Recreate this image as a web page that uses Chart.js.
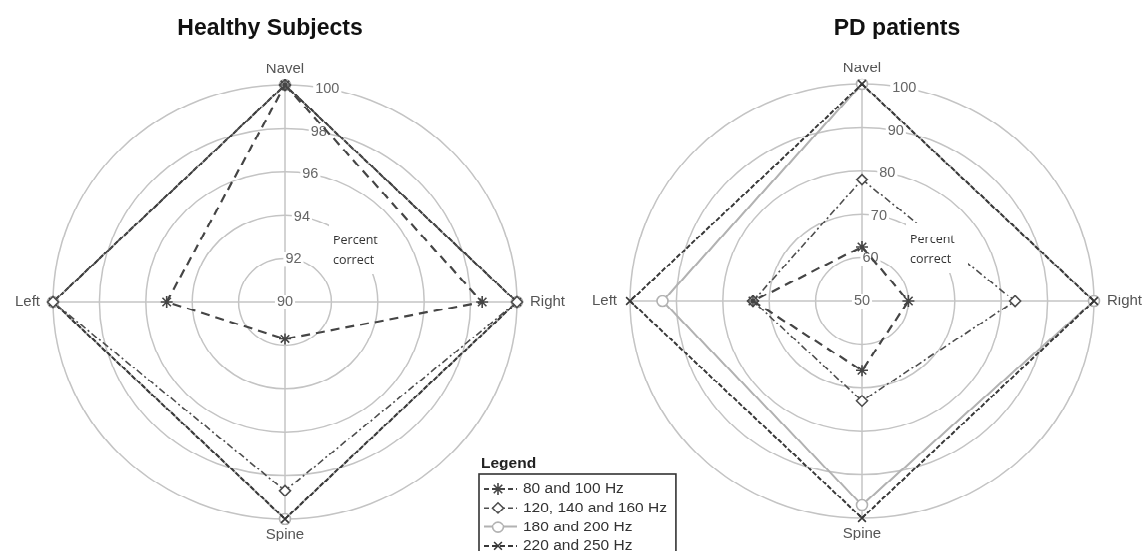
<!DOCTYPE html>
<html>
<head>
<meta charset="utf-8">
<script src="https://cdn.jsdelivr.net/npm/chart.js@4.4.1/dist/chart.umd.min.js"></script>
<style>
  html, body { margin: 0; padding: 0; background: #fff; overflow: hidden; }
  /* the source figure is a little squashed vertically */
  #wrap { position: relative; width: 1144px; height: 605px; transform: scale(1, 0.935); transform-origin: 0 0; }
  #wrap canvas { position: absolute; top: 0; }
  #healthy { left: 0; }
  #pd { left: 572px; }
</style>
</head>
<body>
<div id="wrap">
  <canvas id="healthy" width="1144" height="605"></canvas>
  <canvas id="pd" width="590" height="605"></canvas>
</div>
<script>
// axes, clockwise from the top
const directions = ['Navel', 'Right', 'Spine', 'Left'];
const seriesNames = ['80 and 100 Hz', '120, 140 and 160 Hz', '180 and 200 Hz', '220 and 250 Hz'];

// Healthy subjects, percent correct
const healthy80 = [100, 98.5, 91.7, 95.1];
const healthy120 = [100, 100, 98.7, 100];
const healthy180 = [100, 100, 100, 100];
const healthy220 = [100, 100, 100, 100];

// PD patients, percent correct
const pd80 = [62.5, 60, 66, 73.5];
const pd120 = [78, 83, 73, 73.5];
const pd180 = [100, 100, 97, 93];
const pd220 = [100, 100, 100, 100];

const healthyTicks = [90, 92, 94, 96, 98, 100];
const pdTicks = [50, 60, 70, 80, 90, 100];

const looks = [
  { color: '#454545', dash: [9, 6], width: 2.2, point: 'star', radius: 6, order: 0 },
  { color: '#4e4e4e', dash: [7, 3, 2, 3], width: 1.6, point: 'rectRot', radius: 5.5, order: 1 },
  { color: '#b2b2b2', dash: [], width: 2, point: 'circle', radius: 5.5, order: 3 },
  { color: '#383838', dash: [5, 2], width: 2, point: 'crossRot', radius: 5.5, order: 2 },
];

const panels = {
  healthy: { title: 'Healthy Subjects', titleX: 270, ticks: healthyTicks, legend: true },
  pd: { title: 'PD patients', titleX: 325, ticks: pdTicks, legend: false },
};

function buildSets(list) {
  return list.map((vals, i) => ({
    label: seriesNames[i],
    data: vals,
    order: looks[i].order,
    fill: false,
    borderColor: looks[i].color,
    borderWidth: looks[i].width,
    borderDash: looks[i].dash,
    pointStyle: looks[i].point,
    pointRadius: looks[i].radius,
    pointBorderWidth: 1.6,
    pointBorderColor: looks[i].color,
    pointBackgroundColor: '#fff',
  }));
}

const decor = {
  id: 'decor',
  beforeDatasetsDraw(chart) {
    const p = panels[chart.canvas.id];
    const r = chart.scales.r;
    const ctx = chart.ctx;
    const a = 10.5 * Math.PI / 180;
    ctx.save();
    ctx.font = '14.5px "Liberation Sans"';
    ctx.textAlign = 'center';
    ctx.textBaseline = 'middle';
    p.ticks.forEach((v) => {
      const d = r.getDistanceFromCenterForValue(v);
      const x = r.xCenter + d * Math.sin(a);
      const y = r.yCenter - d * Math.cos(a);
      const w = ctx.measureText(String(v)).width;
      ctx.fillStyle = '#fff';
      ctx.fillRect(x - w / 2 - 2, y - 8, w + 4, 16);
      ctx.fillStyle = '#666';
      ctx.fillText(String(v), x, y);
    });
    ctx.restore();
  },
  afterDatasetsDraw(chart) {
    const r = chart.scales.r;
    const ctx = chart.ctx;
    ctx.save();
    ctx.fillStyle = '#fff';
    ctx.fillRect(r.xCenter + 44, r.yCenter - 84, 62, 54);
    ctx.fillStyle = '#333';
    ctx.font = '12.5px "Open Sans"';
    ctx.textAlign = 'left';
    ctx.textBaseline = 'middle';
    ctx.fillText('Percent', r.xCenter + 48, r.yCenter - 66);
    ctx.fillText('correct', r.xCenter + 48, r.yCenter - 45);
    ctx.restore();
  },
  afterDraw(chart) {
    const p = panels[chart.canvas.id];
    const ctx = chart.ctx;
    ctx.save();
    ctx.fillStyle = '#111';
    ctx.font = 'bold 23px "Liberation Sans"';
    ctx.textAlign = 'center';
    ctx.textBaseline = 'alphabetic';
    ctx.fillText(p.title, p.titleX, 37);

    if (p.legend) {
      ctx.textAlign = 'left';
      ctx.font = 'bold 15.5px "Liberation Sans"';
      ctx.fillStyle = '#222';
      ctx.fillText('Legend', 481, 500);
      ctx.font = '15.5px "Liberation Sans"';
      const maxW = Math.max(...seriesNames.map((n) => ctx.measureText(n).width));
      ctx.strokeStyle = '#333';
      ctx.lineWidth = 1.6;
      ctx.strokeRect(479, 507, 523 + maxW + 9 - 479, 120);
      seriesNames.forEach((name, i) => {
        const y = 523 + i * 20.3;
        const lk = looks[i];
        ctx.save();
        ctx.strokeStyle = lk.color;
        ctx.lineWidth = lk.width;
        ctx.setLineDash(lk.dash.length ? [5, 3] : []);
        ctx.beginPath();
        ctx.moveTo(484, y);
        ctx.lineTo(517, y);
        ctx.stroke();
        ctx.restore();
        ctx.fillStyle = '#fff';
        ctx.strokeStyle = lk.color;
        ctx.lineWidth = 1.6;
        Chart.helpers.drawPoint(ctx, { pointStyle: lk.point, radius: lk.radius, rotation: 0, borderWidth: 1.6 }, 498, y);
        ctx.fillStyle = '#333';
        ctx.textBaseline = 'middle';
        ctx.fillText(name, 523, y);
      });
    }
    ctx.restore();
  },
};

function radarOptions(min, max, step, pad) {
  return {
    responsive: false,
    animation: false,
    layout: { padding: pad },
    plugins: { legend: { display: false }, tooltip: { enabled: false }, title: { display: false } },
    elements: { line: { tension: 0 } },
    scales: {
      r: {
        min: min,
        max: max,
        ticks: { display: false, stepSize: step },
        grid: { circular: true, color: '#c4c4c4', lineWidth: 1.5 },
        angleLines: { color: '#c4c4c4', lineWidth: 1.5 },
        pointLabels: {
          font: { family: 'Liberation Sans', size: 15 },
          color: '#555',
          padding: (ctx) => (ctx.index % 2 ? 13 : 8),
        },
      },
    },
  };
}

new Chart(document.getElementById('healthy'), {
  type: 'radar',
  data: { labels: directions, datasets: buildSets([healthy80, healthy120, healthy180, healthy220]) },
  options: radarOptions(90, 100, 2, { left: 10, right: 574, top: 43, bottom: 2 }),
  plugins: [decor],
});

new Chart(document.getElementById('pd'), {
  type: 'radar',
  data: { labels: directions, datasets: buildSets([pd80, pd120, pd180, pd220]) },
  options: radarOptions(50, 100, 10, { left: 15, right: 15, top: 42, bottom: 3 }),
  plugins: [decor],
});
</script>
</body>
</html>
